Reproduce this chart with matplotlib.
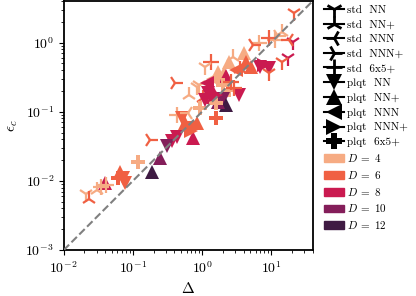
import numpy as np
import matplotlib
matplotlib.use("Agg")
from matplotlib import pyplot as plt
from matplotlib.lines import Line2D
import matplotlib.patches as mpatches
import seaborn as sns

plt.rcParams['font.family'] = 'serif'
plt.rcParams['font.serif'] = ['cmr10']
plt.rcParams['mathtext.fontset'] = 'cm'
plt.rcParams['axes.formatter.use_mathtext'] = True
plt.rcParams['axes.unicode_minus'] = False

# method labels and the markers used for them
methods = ['std NN', 'std NN+', 'std NNN', 'std NNN+', 'std 6x5+',
           'plqt NN', 'plqt NN+', 'plqt NNN', 'plqt NNN+', 'plqt 6x5+']
markers = ['1', '2', '3', '4', '+', 'v', '^', '<', '>', 'P']
bond_dims = [4, 6, 8, 10, 12]

# one entry per point: Delta, epsilon_c, method, bond dimension D
delta = [21.2, 14.2, 11.2, 20.5, 9.2, 6.6, 5.4, 17.3, 14.2, 7.0,
         9.2, 5.05, 9.2, 4.0, 2.42, 1.33, 1.12, 1.73, 2.05, 2.19,
         0.92, 1.33, 1.98, 2.42, 3.38, 2.86, 4.27, 2.77, 0.41, 0.64,
         0.86, 1.05, 1.24, 1.42, 1.98, 2.19, 1.73, 0.95, 1.57, 1.57,
         0.44, 0.52, 0.577, 0.86, 0.68, 0.753, 0.44, 0.373, 0.316, 0.18,
         0.25, 0.12, 0.192, 0.066, 0.073, 0.0617, 0.078, 0.040, 0.0349, 0.0306,
         0.0212, 0.0234, 1.12, 18.0, 12.5, 7.9, 3.1, 1.45, 0.62, 2.6,
         1.6, 0.0415, 3.6, 1.2, 0.7]
eps = [2.7, 1.43, 1.09, 1.02, 1.17, 0.99, 0.93, 0.6, 0.525, 0.444,
       0.43, 0.444, 0.364, 0.71, 0.525, 0.525, 0.444, 0.376, 0.364, 0.33,
       0.244, 0.22, 0.244, 0.206, 0.174, 0.22, 0.525, 0.62, 0.26, 0.174,
       0.228, 0.158, 0.187, 0.163, 0.153, 0.125, 0.138, 0.113, 0.134, 0.081,
       0.0896, 0.081, 0.0686, 0.0686, 0.058, 0.0416, 0.0437, 0.0376, 0.0322, 0.039,
       0.0213, 0.0187, 0.0134, 0.0134, 0.011, 0.011, 0.0093, 0.0093, 0.0081, 0.0073,
       0.0064, 0.0054, 0.148, 1.09, 1.25, 0.47, 0.40, 0.30, 0.095, 0.27,
       0.175, 0.0086, 0.42, 0.26, 0.052]
method = ['std NN', 'std NN+', 'std 6x5+', 'std NN', 'std 6x5+', 'std 6x5+', 'std NNN+', 'std NN', 'std NN', 'plqt NN',
          'plqt NN', 'plqt NN+', 'std NN', 'plqt NN+', 'plqt NN+', 'std 6x5+', 'std NN', 'plqt NN+', 'plqt NN+', 'plqt NN+',
          'std NN', 'plqt NN+', 'plqt 6x5+', 'plqt 6x5+', 'plqt NN', 'std 6x5+', 'plqt NN+', 'std NN+', 'std NNN+', 'std NN+',
          'std NN', 'std NN+', 'plqt NN', 'plqt NN+', 'plqt NN', 'plqt NN+', 'plqt NN+', 'plqt 6x5+', 'plqt 6x5+', 'plqt 6x5+',
          'std 6x5+', 'plqt NN', 'plqt NN+', 'plqt NN+', 'plqt NN', 'plqt NN+', 'plqt NN', 'plqt NN', 'plqt NN', 'std NNN+',
          'plqt NN+', 'plqt 6x5+', 'plqt NN+', 'plqt NN+', 'plqt NN', 'plqt 6x5+', 'plqt NN', 'plqt NN+', 'std 6x5+', 'std NN+',
          'std NN', 'std NN+', 'plqt NN', 'std NNN', 'std NNN+', 'plqt NNN+', 'plqt NNN', 'plqt NNN', 'std NNN', 'std 6x5+',
          'plqt NNN+', 'std 6x5+', 'std NN+', 'plqt NNN', 'plqt NNN+']
D = [6, 4, 4, 8, 6, 4, 6, 8, 6, 8,
     8, 6, 6, 4, 4, 6, 4, 4, 4, 8,
     4, 8, 4, 4, 8, 6, 6, 4, 6, 4,
     4, 6, 8, 8, 10, 12, 10, 4, 4, 6,
     4, 6, 6, 6, 6, 8, 8, 8, 10, 6,
     10, 4, 12, 6, 6, 6, 6, 8, 4, 4,
     4, 6, 8, 6, 4, 8, 6, 4, 4, 6,
     8, 4, 6, 8, 6]

colors = sns.color_palette('rocket_r', len(bond_dims))

fig = plt.figure(figsize=(4.16, 2.96), dpi=100)
ax = fig.add_axes([0.153, 0.155, 0.599, 0.842])

ax.plot([1e-2, 1e2], [1e-3, 1e1], '--', color='grey', lw=1.5, zorder=3)

for x, y, m, d in zip(delta, eps, method, D):
    mk = markers[methods.index(m)]
    c = colors[bond_dims.index(d)]
    if m.startswith('std'):
        ax.plot(x, y, marker=mk, color=c, markersize=11, mew=1.6, linestyle='none', zorder=2)
    else:
        ax.plot(x, y, marker=mk, color=c, markersize=10.5, mew=0, linestyle='none', zorder=2)

ax.set_xscale('log')
ax.set_yscale('log')
ax.set_xlim(1e-2, 40)
ax.set_ylim(1e-3, 4)
ax.set_xlabel(r'$\Delta$', fontsize=11)
ax.set_ylabel(r'$\epsilon_c$', fontsize=11)
ax.tick_params(labelsize=10)
for s in ax.spines.values():
    s.set_linewidth(1.3)

handles = []
for m, mk in zip(methods, markers):
    lab = m.replace(' ', '  ')
    if m.startswith('std'):
        handles.append(Line2D([0], [0], color='k', marker=mk, markersize=12, mew=2, lw=1.5, label=lab))
    else:
        handles.append(Line2D([0], [0], color='k', marker=mk, markersize=11, mew=0, lw=1.5, label=lab))
for d, c in zip(bond_dims, colors):
    handles.append(mpatches.Patch(color=c, label=r'$D\;=\;%d$' % d))

ax.legend(handles=handles, loc='upper left', bbox_to_anchor=(1.025, 1.0), borderaxespad=0,
          frameon=False, fontsize=8, labelspacing=0.43, handlelength=1.8, handletextpad=0.3)

fig.savefig('out.png', dpi=100)
